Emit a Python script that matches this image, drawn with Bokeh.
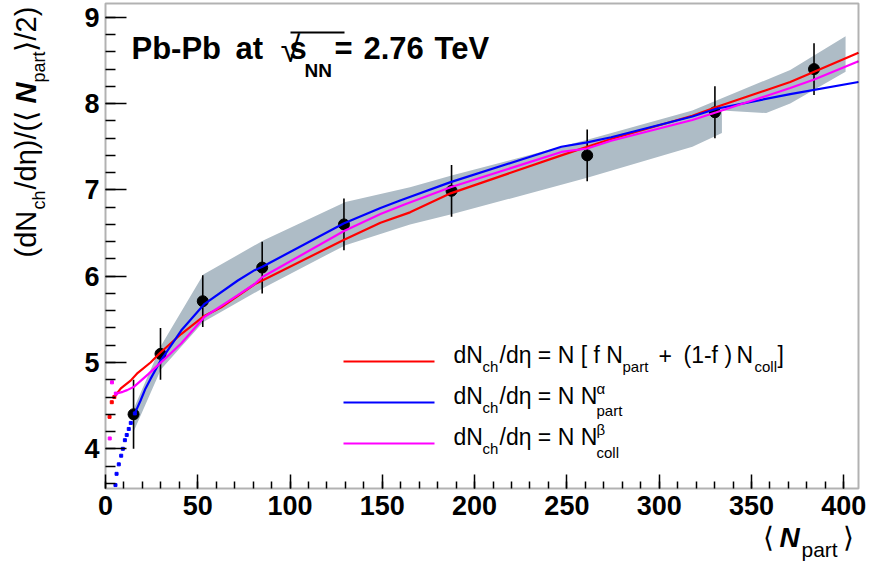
import math
from bokeh.plotting import figure
from bokeh.models import Range1d, FixedTicker, LinearAxis, Label, BoxAnnotation
from bokeh.embed import file_html
from bokeh.resources import INLINE

# ---------------- data ----------------
npart = [15.2, 29.8, 52.7, 84.9, 129.2, 187.5, 261.0, 330.2, 383.9]
dndeta = [4.40, 5.10, 5.71, 6.10, 6.60, 6.99, 7.40, 7.90, 8.40]
err = [0.40, 0.30, 0.30, 0.30, 0.30, 0.30, 0.30, 0.30, 0.30]

band_upper_x = [15, 30, 53, 86, 130, 165, 188, 261, 318, 371, 401]
band_upper_y = [4.45, 5.19, 6.02, 6.42, 6.86, 7.03, 7.17, 7.58, 7.92, 8.39, 8.78]
band_lower_x = [15, 30, 53, 86, 130, 165, 188, 261, 318, 334, 334, 358, 371, 401]
band_lower_y = [4.19, 4.92, 5.47, 5.87, 6.36, 6.60, 6.72, 7.14, 7.50, 7.66, 7.92, 7.89, 8.00, 8.37]

red_x = [2.2, 3.4, 4.8, 8.3, 13.6, 17.5, 24.4, 29.5, 41, 53.5, 62.7, 81, 85, 129, 149, 165, 187, 247, 261, 274, 318, 331, 371, 384, 408]
red_y = [4.37, 4.54, 4.60, 4.70, 4.79, 4.88, 5.00, 5.11, 5.33, 5.54, 5.64, 5.91, 5.95, 6.42, 6.62, 6.74, 6.96, 7.40, 7.50, 7.59, 7.86, 7.96, 8.25, 8.37, 8.59]

blue_x = [5.4, 6.0, 7.2, 8.5, 9.4, 10.5, 11.5, 12.6, 13.7, 15.9, 19, 21.7, 24.4, 29.8, 41, 53.7, 71.7, 80.8, 85, 129, 149, 160, 187, 247, 261, 274, 318, 331, 371, 408]
blue_y = [3.58, 3.71, 3.82, 3.92, 4.00, 4.10, 4.16, 4.23, 4.30, 4.41, 4.56, 4.70, 4.81, 5.02, 5.37, 5.68, 5.95, 6.07, 6.11, 6.61, 6.79, 6.88, 7.09, 7.50, 7.55, 7.61, 7.85, 7.94, 8.11, 8.25]

mag_x = [2.3, 3.5, 5.6, 9.4, 11.7, 15.5, 22.9, 29.5, 41, 53.7, 71.7, 80.8, 85, 129, 149, 162, 187, 247, 261, 274, 318, 331, 371, 384, 408]
mag_y = [4.12, 4.77, 4.64, 4.66, 4.68, 4.72, 4.86, 4.99, 5.22, 5.53, 5.78, 5.91, 5.99, 6.52, 6.72, 6.83, 7.03, 7.44, 7.48, 7.57, 7.81, 7.90, 8.18, 8.28, 8.49]

x_major_ticks = [0, 50, 100, 150, 200, 250, 300, 350, 400]
x_minor_ticks = list(range(0, 410, 10))
y_major_ticks = [4, 5, 6, 7, 8, 9]
y_minor_ticks = [round(3.6 + 0.2 * i, 1) for i in range(28)]

# ---------------- geometry ----------------
W, H = 871, 574
X0, X1 = 0, 408          # plot box range
Y0, Y1 = 3.54, 9.16
FL, FR, FT, FB = 105, 858, 3, 488  # plot box in page pixels
KX = (FR - FL) / (X1 - X0)
KY = (FB - FT) / (Y1 - Y0)
XS = X0 - FL / KX
XE = XS + W / KX
YE = Y1 + FT / KY
YS = YE - H / KY

p = figure(width=W, height=H, x_range=Range1d(XS, XE), y_range=Range1d(YS, YE),
           output_backend="svg", toolbar_location=None,
           x_axis_type=None, y_axis_type=None,
           min_border_left=0, min_border_right=0, min_border_top=0, min_border_bottom=0)
p.background_fill_color = "white"
p.border_fill_color = "white"
p.outline_line_color = None
p.grid.visible = False

def px2x(px):
    return XS + px / KX

def py2y(py):
    return YE - py / KY

# band
bx = band_upper_x + band_lower_x[::-1]
by = band_upper_y + band_lower_y[::-1]
p.patch(bx, by, fill_color="#aebcc6", line_color=None)

# data points + error bars
lo = [v - e for v, e in zip(dndeta, err)]
hi = [v + e for v, e in zip(dndeta, err)]
p.segment(x0=npart, y0=lo, x1=npart, y1=hi, line_color="black", line_width=1.6)
p.scatter(npart, dndeta, size=11, fill_color="black", line_color="black")

# curves: isolated dots at low Npart, continuous line afterwards
def curve(xs, ys, color, start):
    p.scatter(xs[:start + 1], ys[:start + 1], marker="square", size=3, fill_color=color, line_color=color)
    p.line(xs[start:], ys[start:], line_color=color, line_width=2.2)

curve(red_x, red_y, "#ff0000", 2)
curve(blue_x, blue_y, "#0000ff", 9)
curve(mag_x, mag_y, "#ff00ff", 2)

# axes drawn at the plot box edges
xax = LinearAxis(fixed_location=Y0, bounds=(X0, X1),
                 ticker=FixedTicker(ticks=x_major_ticks, minor_ticks=x_minor_ticks))
xax.major_tick_in = 14
xax.major_tick_out = 0
xax.minor_tick_in = 7
xax.minor_tick_out = 0
xax.major_label_standoff = 7
yax = LinearAxis(fixed_location=X0, bounds=(Y0, Y1),
                 ticker=FixedTicker(ticks=y_major_ticks, minor_ticks=y_minor_ticks))
yax.major_tick_in = 21
yax.major_tick_out = 0
yax.minor_tick_in = 10
yax.minor_tick_out = 0
yax.major_label_standoff = 6
for ax in (xax, yax):
    ax.axis_line_color = None
    ax.major_tick_line_color = "black"
    ax.minor_tick_line_color = "black"
    ax.major_tick_line_width = 1.5
    ax.minor_tick_line_width = 1.5
    ax.major_label_text_font = "Liberation Sans"
    ax.major_label_text_font_style = "bold"
    ax.major_label_text_font_size = "27px"
    ax.major_label_text_color = "black"
p.add_layout(xax, "below")
p.add_layout(yax, "left")

# plot box outline
p.add_layout(BoxAnnotation(left=X0, right=X1, bottom=Y0, top=Y1, fill_alpha=0,
                           line_color="black", line_width=2, level="overlay"))

FONT = "Liberation Sans"

def lab(px, base, text, size, style="normal", rot=False):
    """px: text start; base: baseline position (page pixels)."""
    shift = 0.36 * size  # label anchor lands on the glyph middle
    if rot:
        x, y = px2x(base - shift), py2y(px)
    else:
        x, y = px2x(px), py2y(base - shift)
    p.add_layout(Label(x=x, y=y, text=text, text_font=FONT,
                       text_font_size=f"{size}px", text_font_style=style,
                       text_color="black", text_align="left", text_baseline="alphabetic",
                       angle=(math.pi / 2 if rot else 0.0)))

# title
T = 31
lab(131, 59, "Pb-Pb", T, "bold")
lab(235, 59, "at", T, "bold")
lab(280, 62, "\u221a", 36, "normal")
lab(289, 59, "s", T, "bold")
lab(304, 77, "NN", 19, "bold")
lab(334, 59, "=", T, "bold")
lab(363, 59, "2.76", T, "bold")
lab(434, 59, "TeV", T, "bold")
p.add_layout(BoxAnnotation(left=px2x(290), right=px2x(344), top=py2y(31), bottom=py2y(33),
                           fill_color="black", fill_alpha=1, line_color=None))

# legend
for (py, col) in [(361, "#ff0000"), (402, "#0000ff"), (443, "#ff00ff")]:
    p.add_layout(BoxAnnotation(left=px2x(343), right=px2x(434), top=py2y(py - 1), bottom=py2y(py + 1),
                               fill_color=col, fill_alpha=1, line_color=None))
M, S = 23, 15
lab(453, 363, "dN", M); lab(482, 371, "ch", S); lab(499, 363, "/d\u03b7 = N [ f N", M)
lab(622, 371, "part", S); lab(658, 363, "+", M); lab(683, 363, "(1-f )", M); lab(736, 363, "N", M)
lab(754, 371, "coll", S); lab(777, 363, "]", M)

lab(453, 404, "dN", M); lab(482, 412, "ch", S); lab(499, 404, "/d\u03b7 = N N", M)
lab(596, 393, "\u03b1", S); lab(596, 415, "part", S)

lab(453, 445, "dN", M); lab(482, 453, "ch", S); lab(499, 445, "/d\u03b7 = N N", M)
lab(596, 434, "\u03b2", S); lab(596, 457, "coll", S)

# x axis title
lab(762, 547, "\u27e8", 28)
lab(779, 547, "N", 28, "bold italic")
lab(801, 557, "part", 21)
lab(842, 547, "\u27e9", 28)

# y axis title (rotated, reads bottom to top)
lab(257, 36, "(dN", 29, rot=True)
lab(209, 45, "ch", 18, rot=True)
lab(189, 36, "/d\u03b7)/(\u27e8 ", 29, rot=True)
lab(103, 36, "N", 29, "bold italic", rot=True)
lab(82, 45, "part", 18, rot=True)
lab(51, 36, "\u27e9/2)", 29, rot=True)

open("out.html", "w").write(file_html(p, INLINE))
